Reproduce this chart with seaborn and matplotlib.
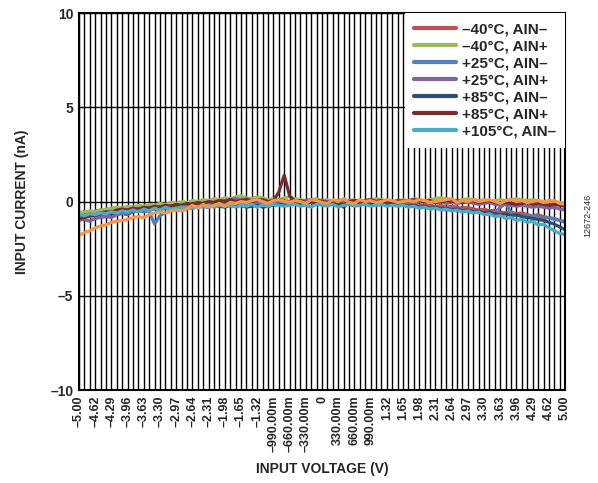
import numpy as np
import pandas as pd
import matplotlib.pyplot as plt
import seaborn as sns

# x tick labels (one every 3rd category, 91 categories in total)
tick_labels = ["–5.00", "–4.62", "–4.29", "–3.96", "–3.63", "–3.30", "–2.97", "–2.64",
               "–2.31", "–1.98", "–1.65", "–1.32", "–990.00m", "–660.00m", "–330.00m", "0",
               "330.00m", "660.00m", "990.00m", "1.32", "1.65", "1.98", "2.31", "2.64",
               "2.97", "3.30", "3.63", "3.96", "4.29", "4.62", "5.00"]

series_names = ["–40°C, AIN–", "–40°C, AIN+", "+25°C, AIN–", "+25°C, AIN+",
                "+85°C, AIN–", "+85°C, AIN+", "+105°C, AIN–", "+105°C, AIN+"]

m40_ain_n = [-0.6, -0.55, -0.6, -0.5, -0.45, -0.5, -0.4, -0.45, -0.35, -0.4,
             -0.3, -0.35, -0.3, -0.25, -0.3, -0.2, -0.25, -0.2, -0.15, -0.2,
             -0.15, -0.2, -0.1, -0.15, -0.1, -0.15, -0.05, -0.1, -0.15, -0.1,
             -0.05, -0.1, 0.0, -0.05, -0.1, 0.0, -0.05, -0.1, 0.0, -0.05,
             0.0, -0.05, -0.1, 0.0, -0.05, 0.0, -0.05, -0.1, 0.0, -0.05,
             0.0, -0.05, 0.0, -0.1, -0.05, 0.0, -0.05, -0.1, -0.05, -0.1,
             -0.1, -0.15, -0.1, -0.2, -0.15, -0.2, -0.25, -0.2, -0.3, -0.25,
             -0.3, -0.35, -0.3, -0.4, -0.45, -0.4, -0.5, -0.45, -0.55, -0.6,
             -0.55, -0.65, -0.6, -0.7, -0.75, -0.7, -0.8, -0.85, -0.9, -1.0, -1.1]

m40_ain_p = [-0.6, -0.55, -0.5, -0.55, -0.45, -0.4, -0.35, -0.3, -0.35, -0.25,
             -0.3, -0.2, -0.25, -0.15, -0.2, -0.1, -0.15, -0.05, -0.1, 0.0,
             -0.05, 0.05, 0.0, 0.1, 0.05, 0.15, 0.1, 0.2, 0.15, 0.25,
             0.3, 0.2, 0.15, 0.25, 0.2, 0.1, 0.15, 0.1, 0.2, 0.25,
             0.15, 0.1, 0.05, 0.1, 0.15, 0.05, 0.1, 0.0, 0.05, 0.1,
             0.05, 0.1, 0.0, 0.05, 0.1, 0.15, 0.1, 0.05, 0.0, 0.05,
             0.1, 0.05, 0.15, 0.1, 0.05, 0.1, 0.15, 0.2, 0.15, 0.1,
             0.05, 0.1, 0.15, 0.1, 0.05, 0.1, 0.0, 0.05, 0.1, 0.05,
             0.1, 0.15, 0.1, 0.05, 0.1, 0.05, 0.0, 0.05, 0.0, -0.05, -0.1]

p25_ain_n = [-0.9, -0.85, -0.8, -0.75, -0.7, -0.75, -0.65, -0.6, -0.55, -0.5,
             -0.5, -0.45, -0.4, -0.55, -1.2, -0.75, -0.6, -0.5, -0.45, -0.4,
             -0.35, -0.35, -0.3, -0.25, -0.3, -0.2, -0.25, -0.2, -0.15, -0.2,
             -0.1, -0.15, -0.1, -0.05, -0.1, -0.05, -0.1, 0.0, -0.1, -0.05,
             -0.05, -0.1, 0.0, -0.05, -0.1, -0.05, 0.0, -0.1, -0.05, -0.1,
             -0.05, 0.0, -0.1, -0.05, -0.1, -0.15, -0.1, -0.2, -0.15, -0.2,
             -0.2, -0.25, -0.2, -0.3, -0.3, -0.35, -0.3, -0.4, -0.45, -0.4,
             -0.5, -0.45, -0.55, -0.6, -0.55, -0.65, -0.7, -0.65, -0.3, -0.1,
             -0.6, -0.75, -0.7, -0.8, -0.75, -0.85, -0.9, -0.85, -0.95, -1.0, -1.05]

p25_ain_p = [-1.0, -0.95, -1.05, -0.9, -0.85, -0.8, -0.85, -0.7, -0.65, -0.7,
             -0.55, -0.5, -0.55, -0.45, -0.4, -0.45, -0.35, -0.3, -0.35, -0.25,
             -0.2, -0.25, -0.15, -0.1, -0.15, -0.05, 0.0, 0.05, 0.1, 0.15,
             0.1, 0.15, 0.05, 0.1, 0.05, 0.0, 0.05, 0.1, 0.05, 0.0,
             0.05, 0.0, 0.05, 0.1, 0.0, 0.05, 0.0, -0.05, 0.0, 0.05,
             0.0, 0.05, 0.0, -0.05, 0.05, 0.0, 0.05, 0.0, -0.05, 0.0,
             0.05, 0.0, -0.05, 0.0, 0.05, 0.0, -0.05, 0.0, -0.1, -0.05,
             -0.1, -0.05, 0.0, -0.1, -0.15, -0.1, -0.05, -0.15, -0.2, -0.15,
             -0.2, -0.25, -0.2, -0.25, -0.3, -0.25, -0.3, -0.35, -0.3, -0.4, -0.45]

p85_ain_n = [-0.8, -0.75, -0.7, -0.75, -0.65, -0.6, -0.65, -0.55, -0.5, -0.55,
             -0.45, -0.5, -0.4, -0.45, -0.35, -0.4, -0.3, -0.35, -0.3, -0.25,
             -0.3, -0.25, -0.2, -0.25, -0.3, -0.2, -0.25, -0.3, -0.2, -0.25,
             -0.2, -0.3, -0.25, -0.2, -0.3, -0.25, -0.2, -0.15, -0.2, -0.15,
             -0.1, -0.15, -0.1, -0.05, -0.1, -0.15, -0.1, -0.05, -0.1, -0.15,
             -0.1, -0.05, -0.1, -0.15, -0.1, -0.2, -0.15, -0.1, -0.2, -0.15,
             -0.2, -0.25, -0.2, -0.3, -0.25, -0.35, -0.3, -0.4, -0.35, -0.45,
             -0.4, -0.5, -0.45, -0.55, -0.5, -0.6, -0.55, -0.65, -0.7, -0.65,
             -0.75, -0.7, -0.8, -0.85, -0.9, -0.95, -1.0, -1.1, -1.2, -1.35, -1.5]

p85_ain_p = [-0.9, -0.85, -0.75, -0.7, -0.6, -0.55, -0.6, -0.45, -0.4, -0.45,
             -0.35, -0.4, -0.3, -0.35, -0.25, -0.3, -0.2, -0.25, -0.15, -0.2,
             -0.1, -0.15, -0.05, -0.1, 0.0, -0.05, 0.05, 0.0, 0.1, 0.0,
             0.05, 0.1, 0.0, 0.05, 0.1, 0.0, 0.05, 0.5, 1.4, 0.3,
             0.0, 0.05, -0.05, 0.0, 0.05, 0.0, -0.05, 0.05, 0.0, -0.3,
             0.0, 0.05, 0.0, 0.05, 0.1, 0.0, 0.05, 0.0, -0.05, 0.05,
             0.0, 0.05, 0.1, 0.05, 0.0, 0.05, -0.05, 0.0, 0.05, 0.0,
             0.05, -0.05, 0.0, 0.05, -0.05, 0.0, 0.05, -0.05, -0.1, -0.05,
             -0.1, -0.15, -0.1, -0.05, -0.15, -0.1, -0.15, -0.2, -0.15, -0.2, -0.25]

p105_ain_n = [-0.7, -0.75, -0.65, -0.7, -0.6, -0.65, -0.55, -0.6, -0.5, -0.55,
              -0.45, -0.55, -0.4, -0.5, -0.35, -0.45, -0.3, -0.4, -0.35, -0.3,
              -0.3, -0.35, -0.25, -0.3, -0.2, -0.3, -0.2, -0.25, -0.2, -0.3,
              -0.2, -0.25, -0.15, -0.3, -0.2, -0.25, -0.15, -0.2, -0.25, -0.2,
              -0.15, -0.25, -0.2, -0.3, -0.15, -0.2, -0.25, -0.15, -0.3, -0.2,
              -0.15, -0.25, -0.2, -0.15, -0.25, -0.2, -0.15, -0.25, -0.2, -0.25,
              -0.2, -0.3, -0.25, -0.35, -0.3, -0.4, -0.35, -0.45, -0.4, -0.5,
              -0.45, -0.55, -0.5, -0.6, -0.55, -0.7, -0.65, -0.8, -0.75, -0.9,
              -0.85, -1.0, -0.95, -1.1, -1.05, -1.25, -1.2, -1.4, -1.55, -1.7, -1.75]

p105_ain_p = [-1.8, -1.65, -1.55, -1.4, -1.3, -1.25, -1.1, -1.05, -1.0, -0.95,
              -0.85, -0.8, -0.85, -0.7, -0.6, -0.55, -0.6, -0.5, -0.45, -0.5,
              -0.4, -0.2, -0.35, -0.15, -0.3, -0.2, -0.1, -0.25, -0.05, -0.1,
              0.0, -0.05, 0.05, 0.1, 0.0, -0.1, 0.05, 0.1, 0.0, -0.05,
              0.05, 0.0, -0.1, 0.1, 0.05, -0.05, -0.1, 0.1, 0.0, 0.15,
              -0.05, -0.1, 0.1, 0.0, 0.05, -0.05, 0.0, 0.1, 0.05, -0.05,
              0.0, 0.05, 0.0, 0.1, 0.05, -0.05, 0.0, 0.05, 0.1, 0.15,
              -0.05, 0.05, 0.0, 0.1, 0.0, 0.05, 0.1, 0.0, -0.1, 0.05,
              0.1, 0.0, 0.05, -0.05, 0.0, 0.05, -0.05, 0.0, 0.05, -0.1, -0.15]

colors = ["#C0504D", "#9BBB59", "#4F81BD", "#8064A2",
          "#2C4D75", "#772C2A", "#4BACC6", "#F79646"]

all_series = [m40_ain_n, m40_ain_p, p25_ain_n, p25_ain_p,
              p85_ain_n, p85_ain_p, p105_ain_n, p105_ain_p]

frames = []
for name, vals in zip(series_names, all_series):
    frames.append(pd.DataFrame({"idx": np.arange(len(vals)), "current": vals, "series": name}))
df = pd.concat(frames, ignore_index=True)

sns.set_style("white")
plt.rcParams['font.family'] = ['Liberation Sans', 'DejaVu Sans']
plt.rcParams['font.weight'] = 'bold'

fig = plt.figure(figsize=(5.98, 4.83), dpi=100)
ax = fig.add_axes([0.132, 0.1925, 0.813, 0.7805])

sns.lineplot(data=df, x="idx", y="current", hue="series", hue_order=series_names,
             palette=colors, linewidth=2.3, ax=ax, sort=False)

n = len(m40_ain_n)
ax.set_xlim(0, n - 1)
ax.set_ylim(-10, 10)
ax.set_xticks(np.arange(0, n, 3))
ax.set_xticklabels(tick_labels, rotation=90, fontsize=9, fontweight='bold')
ax.set_xticks(np.arange(n), minor=True)
ax.set_yticks([-10, -5, 0, 5, 10])
ax.set_yticklabels(["–10", "–5", "0", "5", "10"], fontsize=10, fontweight='bold')
ax.tick_params(axis='both', which='both', length=0, pad=4)

ax.grid(True, axis='x', which='both', color='black', linewidth=1.0)
ax.grid(True, axis='y', which='major', color='black', linewidth=1.0)
ax.set_axisbelow(True)
for sp in ax.spines.values():
    sp.set_color('black')
    sp.set_linewidth(1.5)

ax.set_xlabel("INPUT VOLTAGE (V)", fontsize=10, fontweight='bold', labelpad=7)
ax.set_ylabel("INPUT CURRENT (nA)", fontsize=10, fontweight='bold', labelpad=15)

handles, labels = ax.get_legend_handles_labels()
for h in handles:
    h.set_linewidth(3)
leg = ax.legend(handles[:7], labels[:7], loc='upper right', borderaxespad=0,
                frameon=True, fancybox=False, framealpha=1, facecolor='white',
                edgecolor='none', prop={'size': 11, 'weight': 'bold'},
                handlelength=2.7, handletextpad=0.4, labelspacing=0.2,
                borderpad=0.6)

fig.text(0.983, 0.555, "12672-246", rotation=90, fontsize=6.5, fontweight='normal',
         ha='center', va='center')

fig.savefig("out.png", dpi=100)
